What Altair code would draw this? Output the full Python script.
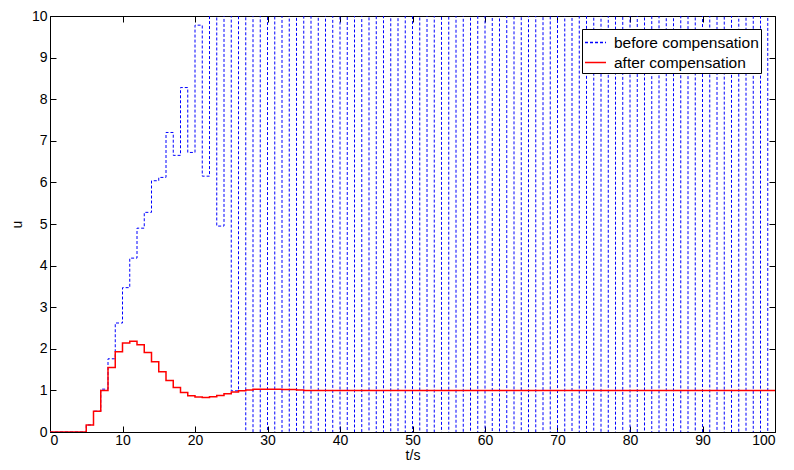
import altair as alt
import pandas as pd

# sample instants (zero-order hold, T = 1 s)
t_vals = list(range(0, 101))

x_ticks = [0, 10, 20, 30, 40, 50, 60, 70, 80, 90, 100]
y_ticks = [0, 1, 2, 3, 4, 5, 6, 7, 8, 9, 10]

names = ["before compensation", "after compensation"]

# values held on [t, t+1), t = 0..99  (saturated samples lie outside the 0..10 window)
before = [
    0, 0, 0, 0, 0, 0.17, 0.5, 1.03, 1.76, 2.62,
    3.47, 4.18, 4.9, 5.28, 6.04, 6.12, 7.2, 6.65, 8.28, 6.72,
    9.78, 6.15, 11, 4.95, 11, 0.99, 11, -1, 11, -1,
    11, -1, 11, -1, 11, -1, 11, -1, 11, -1,
    11, -1, 11, -1, 11, -1, 11, -1, 11, -1,
    11, -1, 11, -1, 11, -1, 11, -1, 11, -1,
    11, -1, 11, -1, 11, -1, 11, -1, 11, -1,
    11, -1, 11, -1, 11, -1, 11, -1, 11, -1,
    11, -1, 11, -1, 11, -1, 11, -1, 11, -1,
    11, -1, 11, -1, 11, -1, 11, -1, 11, -1,
]
after = [
    0, 0, 0, 0, 0, 0.17, 0.5, 1.0, 1.55, 1.93,
    2.14, 2.18, 2.1, 1.91, 1.69, 1.45, 1.24, 1.07, 0.95, 0.87,
    0.84, 0.83, 0.85, 0.88, 0.92, 0.96, 0.99, 1.01, 1.03, 1.03,
    1.03, 1.03, 1.02, 1.02, 1.01, 1.0, 1.0, 1.0, 1.0, 1.0,
    1.0, 1.0, 1.0, 1.0, 1.0, 1.0, 1.0, 1.0, 1.0, 1.0,
    1.0, 1.0, 1.0, 1.0, 1.0, 1.0, 1.0, 1.0, 1.0, 1.0,
    1.0, 1.0, 1.0, 1.0, 1.0, 1.0, 1.0, 1.0, 1.0, 1.0,
    1.0, 1.0, 1.0, 1.0, 1.0, 1.0, 1.0, 1.0, 1.0, 1.0,
    1.0, 1.0, 1.0, 1.0, 1.0, 1.0, 1.0, 1.0, 1.0, 1.0,
    1.0, 1.0, 1.0, 1.0, 1.0, 1.0, 1.0, 1.0, 1.0, 1.0,
]

# last sample repeated at t = 100 so the final hold is drawn
before_full = before + [before[-1]]
after_full = after + [after[-1]]

df = pd.DataFrame({
    "t": t_vals + t_vals,
    "u": before_full + after_full,
    "series": [names[0]] * len(t_vals) + [names[1]] * len(t_vals),
})

FONT = "Liberation Sans"
FS = 14
xscale = alt.Scale(domain=[0, 100], nice=False, zero=False)
yscale = alt.Scale(domain=[0, 10], nice=False, zero=False)

legend = alt.Legend(
    title=None, orient="none", legendX=532, legendY=13,
    strokeColor="black", fillColor="white", padding=2, cornerRadius=0,
    labelFont=FONT, labelFontSize=15.5, labelColor="black",
    symbolType="stroke", symbolSize=441, rowPadding=-3, labelOffset=7,
)
color = alt.Color("series:N", scale=alt.Scale(domain=names, range=["#0000ff", "#ff0000"]), legend=legend)
dash = alt.StrokeDash("series:N", scale=alt.Scale(domain=names, range=[[3, 2], [1, 0]]), legend=legend)

lab_style = dict(labelFont=FONT, labelFontSize=FS, labelColor="black",
                 titleFont=FONT, titleFontSize=FS, titleColor="black", titleFontWeight="normal",
                 grid=False, domain=False, ticks=False)
tick_style = dict(labels=False, domain=False, grid=False, ticks=True, tickSize=6,
                  tickColor="black", tickWidth=1, offset=-6, title=None)

x_main = alt.X("t:Q", scale=xscale, axis=alt.Axis(orient="bottom", values=x_ticks, labelPadding=1,
                                                  title="t/s", titlePadding=1, **lab_style))
y_main = alt.Y("u:Q", scale=yscale, axis=alt.Axis(orient="left", values=y_ticks, labelPadding=3,
                                                 title="u", titlePadding=7, **lab_style))
x_bot = alt.X("t:Q", scale=xscale, axis=alt.Axis(orient="bottom", values=x_ticks, **tick_style))
y_left = alt.Y("u:Q", scale=yscale, axis=alt.Axis(orient="left", values=y_ticks, **tick_style))
x_top = alt.X("t:Q", scale=xscale, axis=alt.Axis(orient="top", values=x_ticks, **tick_style))
y_right = alt.Y("u:Q", scale=yscale, axis=alt.Axis(orient="right", values=y_ticks, **tick_style))

base = alt.Chart(df)
blue = base.transform_filter(alt.datum.series == names[0]).mark_line(
    interpolate="step-after", strokeWidth=1, clip=True
).encode(x=x_main, y=y_main, color=color, strokeDash=dash)
red = base.transform_filter(alt.datum.series == names[1]).mark_line(
    interpolate="step-after", strokeWidth=1.5, clip=True
).encode(x=x_bot, y=y_left, color=color, strokeDash=dash)
ghost = base.transform_filter(alt.datum.series == names[1]).mark_line(
    interpolate="step-after", opacity=0, clip=True
).encode(x=x_top, y=y_right)

chart = alt.layer(blue, red, ghost).resolve_axis(
    x="independent", y="independent"
).properties(
    width=725, height=416,
    autosize=alt.AutoSizeParams(type="none"),
    padding={"left": 42, "top": 8, "right": 11, "bottom": 30},
    background="white",
).configure_view(stroke="black", strokeWidth=1)

chart.save("out.html", embed_options={"renderer": "svg", "actions": False})
